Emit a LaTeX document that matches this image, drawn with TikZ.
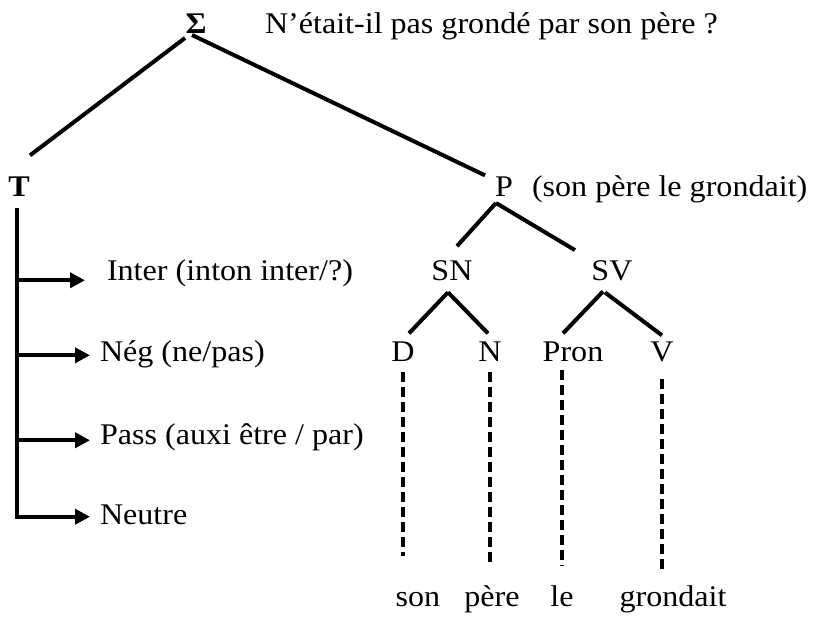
\documentclass[tikz,border=0pt]{standalone}
\usepackage{fontspec}
\setmainfont{Liberation Serif}[FakeStretch=1.07]
\usetikzlibrary{arrows.meta,calc}
\begin{document}
\begin{tikzpicture}[x=1pt,y=-1pt,
  every node/.style={inner sep=0pt,outer sep=0pt,font=\fontsize{30}{36}\selectfont},
  lbl/.style={anchor=base},
  lblw/.style={anchor=base west},
  boldlbl/.style={anchor=base,font=\fontsize{30}{36}\selectfont\bfseries},
  edge/.style={line width=4pt},
  spinestyle/.style={line width=4.5pt},
  dsh/.style={line width=3.8pt,dash pattern=on 10pt off 5pt},
  arr/.style={line width=4pt,-{Triangle[length=15pt,width=15pt]}}]
\useasboundingbox (0,0) rectangle (815,617);
% top
\node[boldlbl] (sig) at (196,34) {Σ};
\node[lblw] (sent) at (265,34) {N’était-il pas grondé par son père ?};
\node[boldlbl] (T) at (19,197) {T};
\node[lbl] (P) at (504,197) {P};
\node[lblw] (para) at (532,197) {(son père le grondait)};
% transformations
\node[lblw] (inter) at (107,281) {Inter (inton inter/?)};
\node[lblw] (neg) at (100,362) {Nég (ne/pas)};
\node[lblw] (pass) at (100,445) {Pass (auxi être / par)};
\node[lblw] (neutre) at (100,525) {Neutre};
% tree
\node[lbl] (SN) at (452,281) {SN};
\node[lbl] (SV) at (612,281) {SV};
\node[lbl] (D) at (403,362) {D};
\node[lbl] (N) at (490,362) {N};
\node[lbl] (Pron) at (573,362) {Pron};
\node[lbl] (V) at (662,362) {V};
\node[lbl] (w1) at (418,607) {son};
\node[lbl] (w2) at (492,607) {père};
\node[lbl] (w3) at (562,607) {le};
\node[lbl] (w4) at (673,607) {grondait};
% edges
\draw[edge] ([shift={(-11,4)}]sig.south) -- ([shift={(11,-22)}]T.north);
\draw[edge] ([shift={(-4,1)}]sig.south) -- ([shift={(-19,-2)}]P.north);
\coordinate (Pap) at ([shift={(-8,6)}]P.south);
\draw[edge] (Pap) -- ([shift={(5,-15)}]SN.north);
\draw[edge] (Pap) -- ([shift={(-37,-11)}]SV.north);
\draw[edge] ([shift={(-4,11)}]SN.south) -- ([shift={(6,-9)}]D.north);
\draw[edge] ([shift={(-4,11)}]SN.south) -- ([shift={(-2,-9)}]N.north);
\draw[edge] ([shift={(-9,10)}]SV.south) -- ([shift={(-10,-9)}]Pron.north);
\draw[edge] ([shift={(-7,11)}]SV.south) -- ([shift={(0,-7)}]V.north);
% dashed
\draw[dsh] ([shift={(0,10)}]D.south) -- ([shift={(-15,-37)}]w1.north);
\draw[dsh] ([shift={(0,10)}]N.south) -- ([shift={(-2,-24)}]w2.north);
\draw[dsh] ([shift={(-11,8)}]Pron.south) -- ([shift={(0,-20)}]w3.north);
\draw[dsh] ([shift={(0,17)}]V.south) -- ([shift={(-11,-17)}]w4.north);
% T spine and arrows
\coordinate (spine) at ([shift={(-2,11)}]T.south);
\coordinate (aI) at ([shift={(-22,6.5)}]inter.west);
\coordinate (aN) at ([shift={(-10,0.5)}]neg.west);
\coordinate (aP) at ([shift={(-10,2.5)}]pass.west);
\coordinate (aU) at ([shift={(-10,1.4)}]neutre.west);
\draw[spinestyle] (spine) -- (spine |- aU);
\draw[arr] ([xshift=-2.25pt]spine |- aU) -- (aU);
\draw[arr] (spine |- aI) -- (aI);
\draw[arr] (spine |- aN) -- (aN);
\draw[arr] (spine |- aP) -- (aP);
\end{tikzpicture}
\end{document}
